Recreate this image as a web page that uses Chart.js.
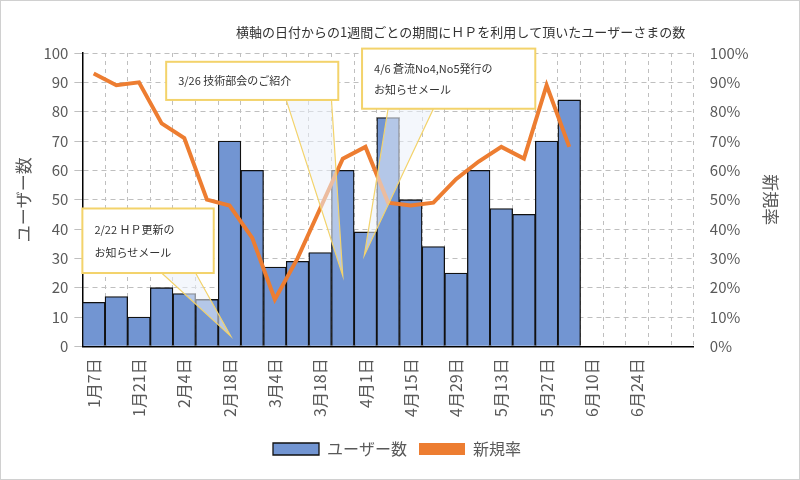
<!DOCTYPE html>
<html><head><meta charset="utf-8">
<script src="https://cdn.jsdelivr.net/npm/chart.js@4/dist/chart.umd.min.js"></script>
<style>html,body{margin:0;padding:0;background:#fff}#w{position:absolute;left:0;top:0;width:798px;height:478px;border:1px solid #d0d0d0}</style>
</head><body><div id="w"><canvas id="c" width="798" height="478"></canvas></div>
<script>
const categories = ["1月7日","1月14日","1月21日","1月28日","2月4日","2月11日","2月18日","2月25日","3月4日","3月11日","3月18日","3月25日","4月1日","4月8日","4月15日","4月22日","4月29日","5月6日","5月13日","5月20日","5月27日","6月3日","6月10日","6月17日","6月24日","7月1日","7月8日"];
const users = [15,17,10,20,18,16,70,60,27,29,32,60,39,78,50,34,25,60,47,45,70,84];
const newRate = [93,89,90,76,71,50,48,37,16,30,47,64,68,49,48,49,57,63,68,64,89,68];
const titleText = "横軸の日付からの1週間ごとの期間にＨＰを利用して頂いたユーザーさまの数";
const notes = [
  {lines:["2/22 ＨＰ更新の","お知らせメール"], box:[-0.5,5.3,47,25], base:[3.0,4.5], tip:[6.05,3.5]},
  {lines:["3/26 技術部会のご紹介"], box:[3.2,10.8,97,84], base:[8.5,10.5], tip:[11.0,24]},
  {lines:["4/6 蒼流No4,No5発行の","お知らせメール"], box:[11.85,19.5,101.5,81], base:[13.0,15.0], tip:[11.95,31]}
];
const F = "'Noto Sans CJK JP','Noto Sans',sans-serif";
const calloutPlugin = {
  id:'callouts',
  afterDraw(chart){
    const ctx=chart.ctx, xs=chart.scales.x, ys=chart.scales.y;
    const px=v=>xs.getPixelForValue(0)+v*(xs.getPixelForValue(1)-xs.getPixelForValue(0));
    notes.forEach(n=>{
      const x1=px(n.box[0]),x2=px(n.box[1]),y1=ys.getPixelForValue(n.box[2]),y2=ys.getPixelForValue(n.box[3]);
      ctx.save();
      ctx.beginPath();
      ctx.moveTo(px(n.base[0]),y2);ctx.lineTo(px(n.tip[0]),ys.getPixelForValue(n.tip[1]));ctx.lineTo(px(n.base[1]),y2);ctx.closePath();
      ctx.fillStyle='rgba(235,240,250,0.55)';ctx.fill();
      ctx.strokeStyle='#F3D36B';ctx.lineWidth=1.2;ctx.stroke();
      ctx.fillStyle='#fff';ctx.fillRect(x1,y1,x2-x1,y2-y1);
      ctx.lineWidth=2;ctx.strokeRect(x1,y1,x2-x1,y2-y1);
      ctx.fillStyle='#333';ctx.font='11px '+F;ctx.textBaseline='middle';
      const h=y2-y1;
      n.lines.forEach((t,i)=>{
        const ty = n.lines.length>1 ? y1+h*(0.33+0.36*i) : y1+h/2;
        ctx.fillText(t,x1+12,ty);
      });
      ctx.restore();
    });
  }
};
const titlePlugin = {
  id:'titleShift',
  afterDraw(chart){
    const ctx=chart.ctx;ctx.save();
    ctx.fillStyle='#333';ctx.font='13px '+F;ctx.textAlign='center';ctx.textBaseline='middle';
    ctx.fillText(titleText,(chart.chartArea.left+chart.width)/2+20,31);
    ctx.restore();
  }
};
new Chart(document.getElementById('c'),{
  data:{labels:categories,datasets:[
    {type:'line',label:'新規率',data:newRate,yAxisID:'y1',borderColor:'#ED7D31',backgroundColor:'#ED7D31',borderWidth:4,pointRadius:0,tension:0,order:0},
    {type:'bar',label:'ユーザー数',data:users,yAxisID:'y',backgroundColor:'#7295D2',borderColor:'#111',borderWidth:1.3,barPercentage:1,categoryPercentage:1,order:1}
  ]},
  plugins:[calloutPlugin,titlePlugin],
  options:{
    responsive:false,animation:false,
    layout:{padding:{left:8,right:14,top:52,bottom:12}},
    plugins:{
      title:{display:false},
      legend:{position:'bottom',reverse:true,labels:{color:'#595959',font:{family:F,size:16},boxWidth:46,boxHeight:12,padding:12,
        generateLabels(chart){
          return chart.data.datasets.map((d,i)=>({text:d.label,fillStyle:d.type==='line'?'#ED7D31':'#7295D2',strokeStyle:d.type==='line'?'#ED7D31':'#111',lineWidth:d.type==='line'?0:1.3,datasetIndex:i,fontColor:'#595959'}));
        }}},
      tooltip:{enabled:false}
    },
    scales:{
      x:{grid:{display:true,color:'#bfbfbf',offset:true,drawTicks:false},border:{color:'#000',width:1.5,dash:[4,4]},
        ticks:{color:'#595959',font:{family:F,size:16},maxRotation:90,minRotation:90,autoSkip:false,padding:12,
          callback(v,i){return (i%2===0&&i<26)?categories[i]:'';}}},
      y:{position:'left',min:0,max:100,grid:{color:'#bfbfbf'},border:{color:'#000',width:1.5,dash:[5,4]},
        ticks:{stepSize:10,color:'#595959',font:{family:F,size:15},padding:6},
        title:{display:true,text:'ユーザー数',color:'#595959',font:{family:F,size:17}}},
      y1:{position:'right',min:0,max:100,grid:{display:false},border:{display:false},
        ticks:{stepSize:10,color:'#595959',font:{family:F,size:15},padding:8,callback:v=>v+'%'},
        title:{display:true,text:'新規率',color:'#595959',font:{family:F,size:17}}}
    }
  }
});
</script></body></html>
